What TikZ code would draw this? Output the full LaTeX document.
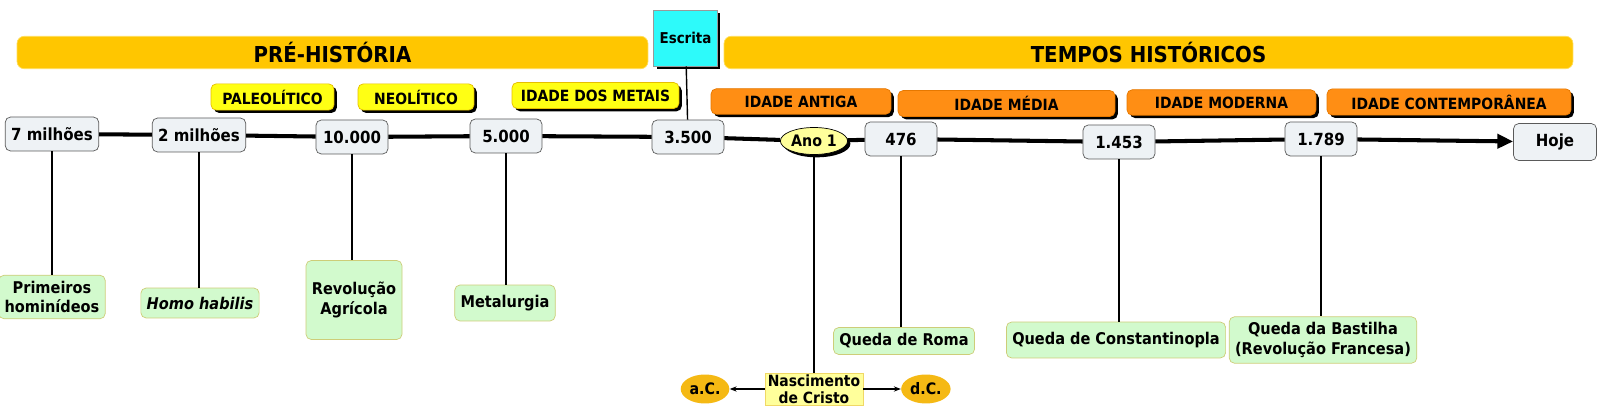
\documentclass[tikz,border=0pt]{standalone}
\usepackage{fontspec}
\setmainfont{DejaVu Sans Condensed}
\usetikzlibrary{positioning,shapes.geometric,shadows,arrows.meta}

\definecolor{eragold}{RGB}{255,198,0}
\definecolor{eraedge}{RGB}{255,222,90}
\definecolor{escritacyan}{RGB}{45,250,250}
\definecolor{periodyellow}{RGB}{255,255,20}
\definecolor{periodedge}{RGB}{230,190,0}
\definecolor{ageorange}{RGB}{255,142,20}
\definecolor{ageedge}{RGB}{230,120,0}
\definecolor{datefill}{RGB}{238,242,245}
\definecolor{dateedge}{RGB}{90,90,90}
\definecolor{eventfill}{RGB}{210,250,205}
\definecolor{eventedge}{RGB}{205,205,120}
\definecolor{paleyellow}{RGB}{255,255,155}
\definecolor{markgold}{RGB}{245,185,20}

\begin{document}
\begin{tikzpicture}[
  x=0.02cm, y=-0.02cm,
  era/.style={rectangle, rounded corners=4pt, draw=eraedge, fill=eragold, minimum height=5.8mm, font=\bfseries\fontsize{12.5}{14}\selectfont},
  period/.style={rectangle, rounded corners=3pt, draw=periodedge, fill=periodyellow, minimum height=5.2mm, font=\bfseries\fontsize{8.8}{10}\selectfont,
    drop shadow={shadow xshift=1.6pt, shadow yshift=-1.6pt, fill=black, opacity=1}},
  age/.style={rectangle, rounded corners=3pt, draw=ageedge, fill=ageorange, minimum height=5.1mm, font=\bfseries\fontsize{8.8}{10}\selectfont,
    drop shadow={shadow xshift=1.6pt, shadow yshift=-1.6pt, fill=black, opacity=1}},
  date/.style={rectangle, rounded corners=3pt, draw=dateedge, fill=datefill, minimum width=14.4mm, minimum height=6.8mm, font=\bfseries\fontsize{9.5}{11}\selectfont},
  event/.style={rectangle, rounded corners=3pt, draw=eventedge, fill=eventfill, align=center, font=\bfseries\fontsize{9.2}{11}\selectfont},
  eramark/.style={ellipse, fill=markgold, minimum width=9.4mm, minimum height=5.8mm, inner sep=1pt, font=\bfseries\fontsize{9}{10}\selectfont},
  timeline/.style={line width=2.3pt, -{Triangle[length=9pt,width=8pt]}},
  link/.style={line width=0.8pt},
  node distance=7mm
]
  \useasboundingbox (0,0) rectangle (1600,418);

  % eras
  \node[era, minimum width=126.2mm] (pre) at (332.5,52.5) {PRÉ-HISTÓRIA};
  \node[era, minimum width=169.8mm] (hist) at (1148.5,52.5) {TEMPOS HISTÓRICOS};
  \node[rectangle, draw=black!40, fill=escritacyan, minimum width=12.2mm, minimum height=11.2mm, font=\bfseries\fontsize{8.5}{10}\selectfont,
    drop shadow={shadow xshift=1.6pt, shadow yshift=-1.6pt, fill=black, opacity=1}] (escrita) at (685.5,38) {Escrita};

  % periods
  \node[period, minimum width=24.6mm] (paleo) at (272.5,97) {PALEOLÍTICO};
  \node[period, minimum width=23.2mm] (neo) at (416,97) {NEOLÍTICO};
  \node[period, minimum width=33.4mm] (metais) at (595.5,95.5) {IDADE DOS METAIS};
  \node[age, minimum width=36mm] (antiga) at (801,101.5) {IDADE ANTIGA};
  \node[age, minimum width=43.4mm] (media) at (1006.5,103.5) {IDADE MÉDIA};
  \node[age, minimum width=37.8mm] (moderna) at (1221.5,102.5) {IDADE MODERNA};
  \node[age, minimum width=48.8mm] (contemp) at (1449,102) {IDADE CONTEMPORÂNEA};

  % dates
  \node[date, minimum width=17.8mm] (d7m) at (52,134) {7 milhões};
  \node[date, minimum width=17.6mm] (d2m) at (199,135) {2 milhões};
  \node[date] (d10k) at (352,137) {10.000};
  \node[date] (d5k) at (506,136) {5.000};
  \node[date] (d3500) at (688,137) {3.500};
  \node[ellipse, draw=black, fill=paleyellow, minimum width=11.4mm, minimum height=5.4mm, inner sep=0.5pt, font=\bfseries\fontsize{9}{10}\selectfont,
    drop shadow={shadow xshift=1.6pt, shadow yshift=-1.6pt, fill=black, opacity=1}] (ano1) at (814,141) {Ano 1};
  \node[date] (d476) at (901,139) {476};
  \node[date] (d1453) at (1119,142) {1.453};
  \node[date] (d1789) at (1321,139) {1.789};
  \node[date, minimum width=16.6mm, minimum height=7.4mm] (hoje) at (1555,142) {Hoje};

  % events
  \node[event, minimum width=20mm, minimum height=8.4mm] (e7m) at (52,297) {Primeiros\\hominídeos};
  \node[event, minimum width=23.6mm, minimum height=6mm, font=\bfseries\itshape\fontsize{9.2}{11}\selectfont] (e2m) at (200,303) {Homo habilis};
  \node[event, minimum width=18.4mm, minimum height=15.8mm] (e10k) at (354,300) {Revolução\\Agrícola};
  \node[event, minimum width=18.8mm, minimum height=7.2mm] (e5k) at (505,303) {Metalurgia};
  \node[event, minimum width=26.4mm, minimum height=5.4mm] (e476) at (904,341) {Queda de Roma};
  \node[event, minimum width=41.2mm, minimum height=7.2mm] (e1453) at (1116,340) {Queda de Constantinopla};
  \node[event, minimum width=36.4mm, minimum height=8.4mm] (e1789) at (1323,340) {Queda da Bastilha\\(Revolução Francesa)};
  \node[rectangle, draw=periodedge!60, fill=paleyellow, minimum width=19.6mm, minimum height=6.2mm, inner sep=1pt, align=center,
    font=\bfseries\fontsize{8.8}{9.5}\selectfont] (cristo) at (814,389) {Nascimento\\de Cristo};
  \node[eramark, left=7mm of cristo] (ac) {a.C.};
  \node[eramark, right=7.5mm of cristo] (dc) {d.C.};

  % timeline
  \draw[timeline] (d7m) -- (d2m) -- (d10k) -- (d5k) -- (d3500) -- (ano1) -- (d476) -- (d1453) -- (d1789) -- (hoje);

  % links
  \draw[link] (escrita) -- (d3500);
  \draw[link] (d7m) -- (d7m |- e7m.north);
  \draw[link] (d2m) -- (d2m |- e2m.north);
  \draw[link] (d10k) -- (d10k |- e10k.north);
  \draw[link] (d5k) -- (d5k |- e5k.north);
  \draw[link] (ano1) -- (cristo);
  \draw[link] (d476) -- (d476 |- e476.north);
  \draw[link] (d1453) -- (d1453 |- e1453.north);
  \draw[link] (d1789) -- (d1789 |- e1789.north);
  \draw[link, -{Stealth[length=4pt]}] (cristo) -- (ac);
  \draw[link, -{Stealth[length=4pt]}] (cristo) -- (dc);
\end{tikzpicture}
\end{document}
